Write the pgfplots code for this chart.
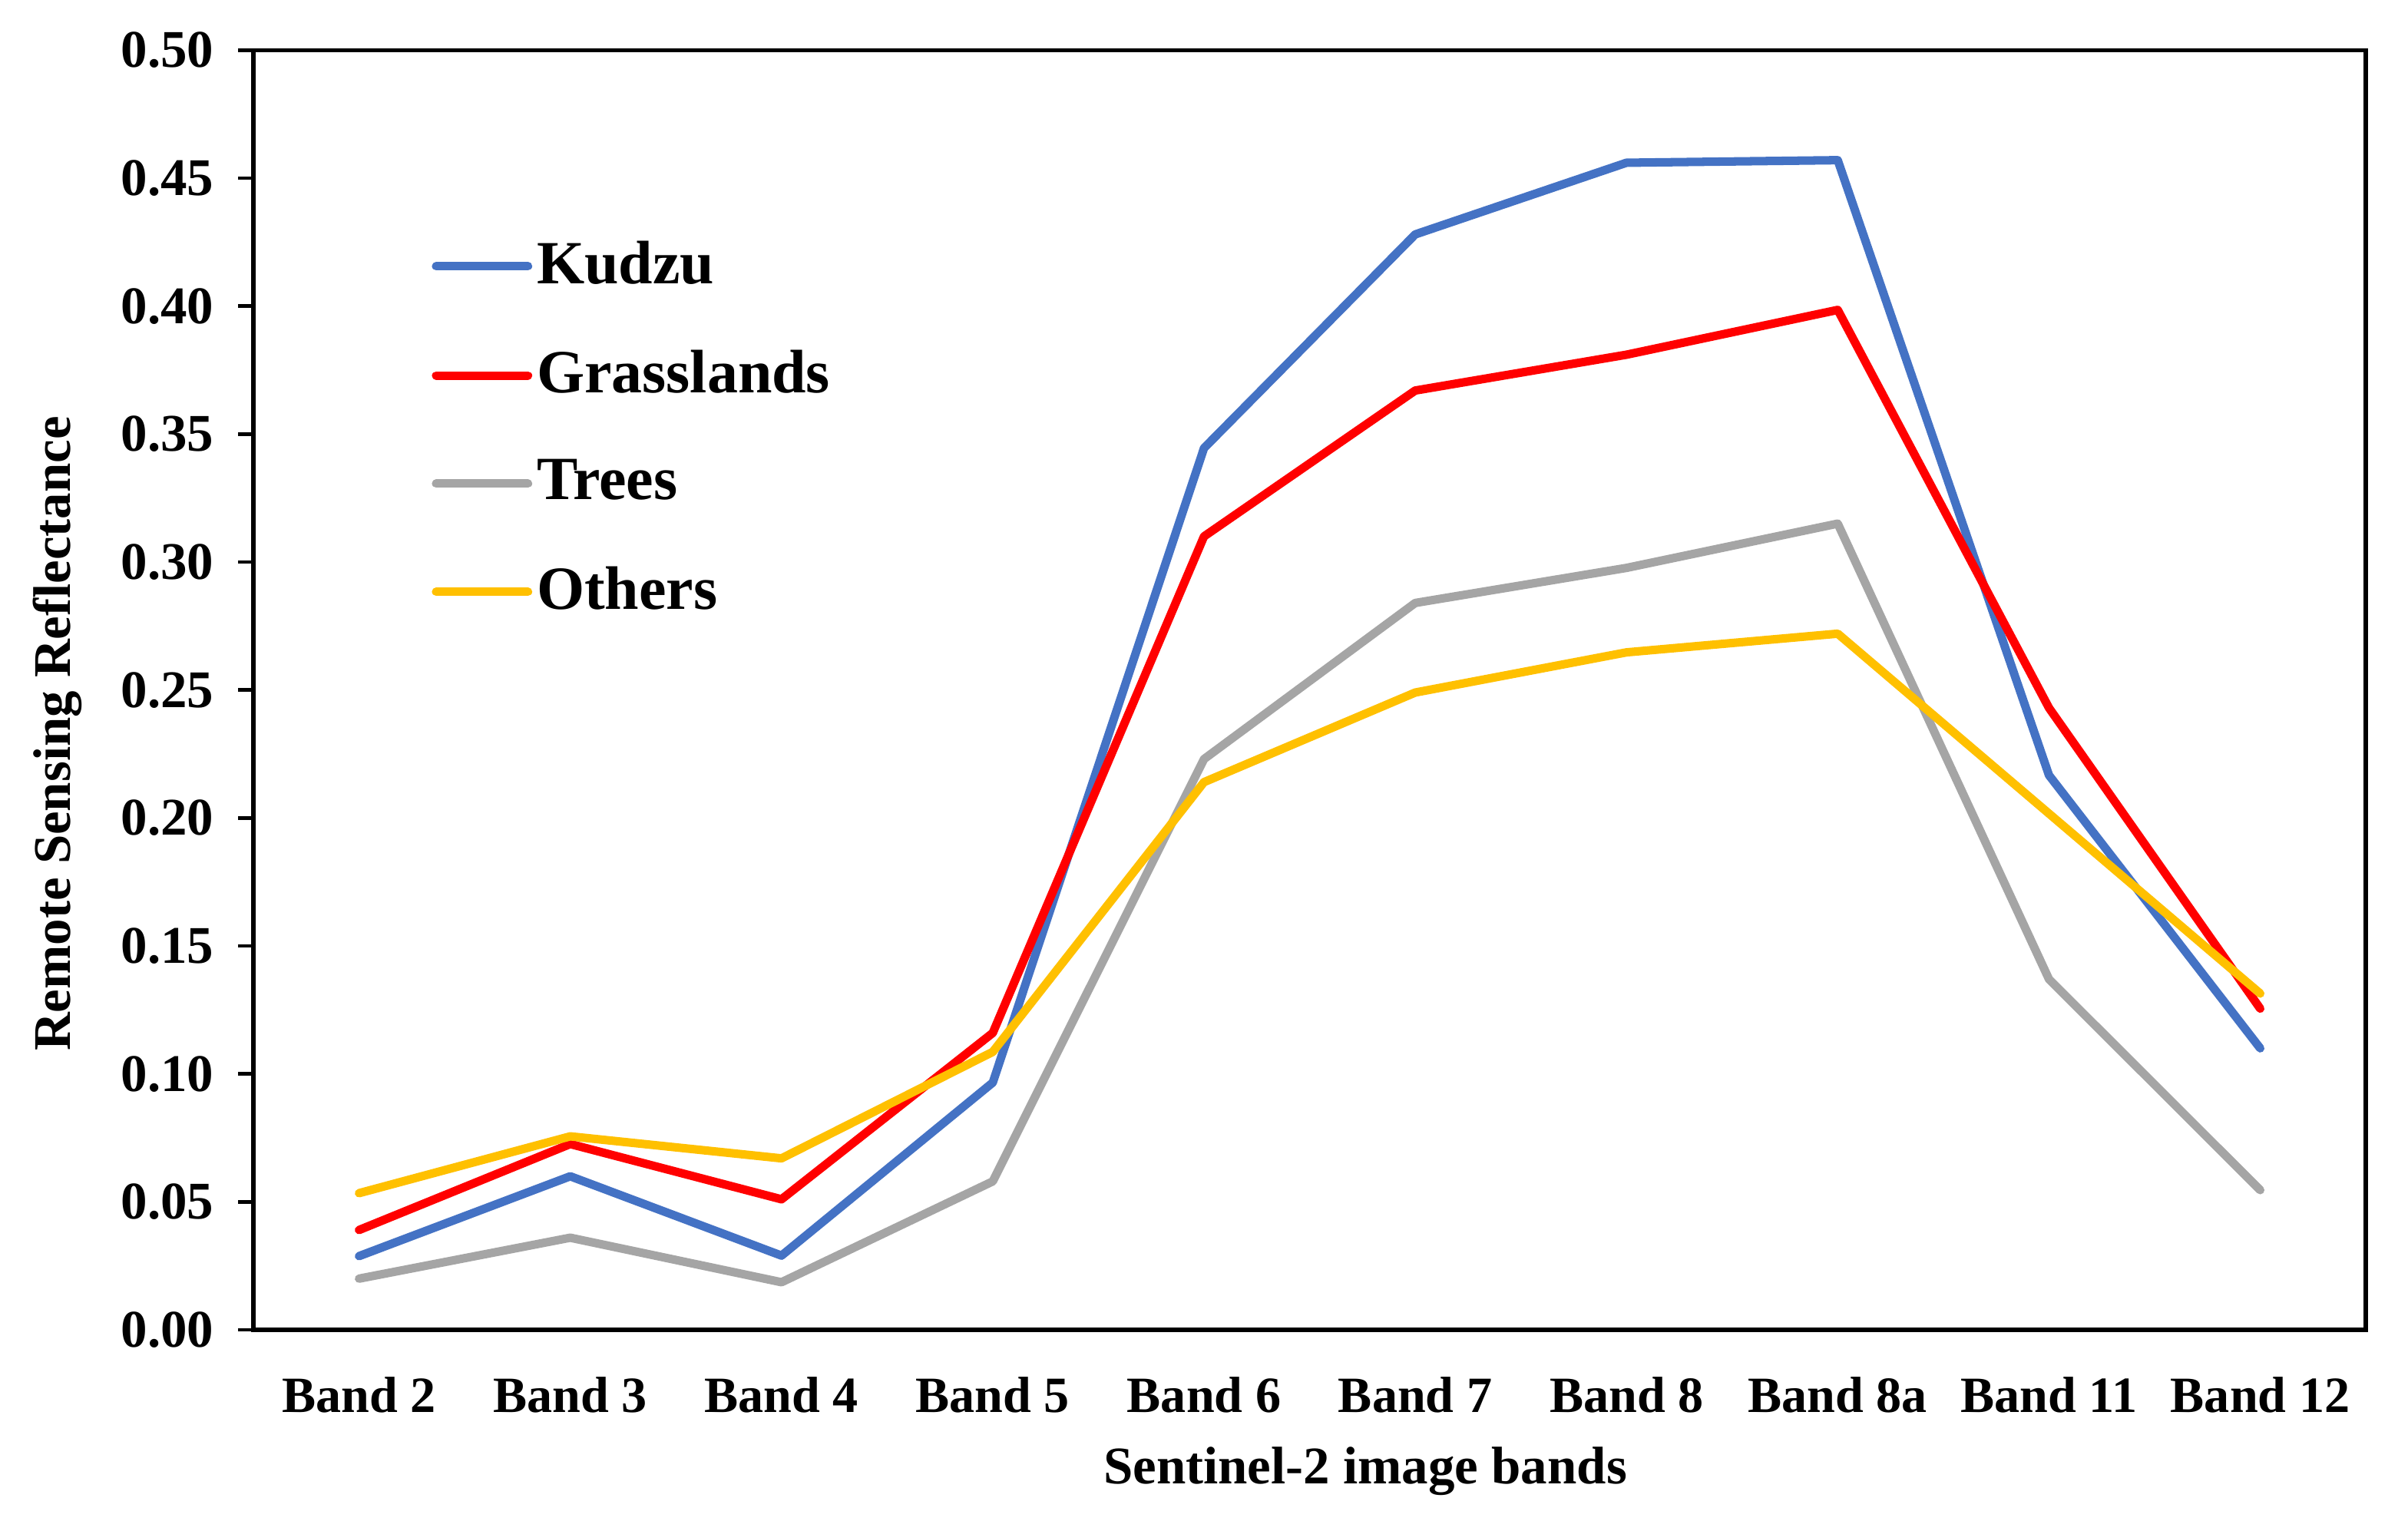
\documentclass[border=0pt]{standalone}
\usepackage{fontspec}
\setmainfont{Liberation Serif}
\usepackage{pgfplots}
\pgfplotsset{compat=1.18}
\definecolor{kudzu}{HTML}{4472C4}
\definecolor{grass}{HTML}{FF0000}
\definecolor{trees}{HTML}{A5A5A5}
\definecolor{others}{HTML}{FFC000}
\begin{document}
\begin{tikzpicture}
\begin{axis}[
  at={(0,0)}, anchor=south west,
  scale only axis,
  width=14.03cm, height=8.50cm,
  xmin=-0.5, xmax=9.5, ymin=0, ymax=0.5,
  xtick={0,...,9},
  xticklabels={Band 2,Band 3,Band 4,Band 5,Band 6,Band 7,Band 8,Band 8a,Band 11,Band 12},
  minor xtick={-0.5,0.5,...,9.5},
  ytick={0,0.05,...,0.5},
  tick align=outside,
  xtick style={draw=none},
  minor tick length=0.12cm,
  major tick length=0.1cm,
  xtick pos=bottom, ytick pos=left,
  every minor tick/.style={black, line width=0.7pt},
  every major tick/.style={black, line width=0.7pt},
  axis line style={black, line width=0.8pt},
  /pgf/number format/assume math mode=true,
  yticklabel style={/pgf/number format/fixed, /pgf/number format/fixed zerofill, /pgf/number format/precision=2, font=\fontsize{10}{11}\selectfont\bfseries, xshift=-0.04cm},
  xticklabel style={font=\fontsize{9.6}{11}\selectfont\bfseries, yshift=-0.09cm},
  scaled y ticks=false,
  xlabel={Sentinel-2 image bands},
  ylabel={Remote Sensing Reflectance},
  every axis x label/.style={at={(axis description cs:0.5,0)}, anchor=center, yshift=-0.94cm, xshift=0.37cm, font=\fontsize{10}{12}\selectfont\bfseries},
  every axis y label/.style={at={(axis description cs:0,0.5)}, rotate=90, anchor=center, yshift=1.3cm, xshift=-0.29cm, font=\fontsize{10}{12}\selectfont\bfseries},
  legend style={draw=none, fill=none, at={(0.084,0.86)}, anchor=north west, font=\fontsize{11.6}{13}\selectfont\bfseries, row sep=0.25cm, inner sep=0pt, nodes={inner xsep=0.03cm}},
  legend cell align=left,
  legend image code/.code={\draw[#1, line cap=round] (0cm,0cm) -- (0.61cm,0cm);},
  every axis plot/.append style={line width=1.6pt, line cap=round, line join=round},
]
\addplot[kudzu] coordinates {(0,0.0288) (1,0.060) (2,0.029) (3,0.0966) (4,0.3445) (5,0.428) (6,0.456) (7,0.457) (8,0.2167) (9,0.110)};
\addlegendentry{Kudzu}
\addplot[grass] coordinates {(0,0.039) (1,0.0726) (2,0.051) (3,0.116) (4,0.310) (5,0.367) (6,0.381) (7,0.3985) (8,0.243) (9,0.1255)};
\addlegendentry{Grasslands}
\addplot[trees] coordinates {(0,0.020) (1,0.036) (2,0.0186) (3,0.058) (4,0.223) (5,0.284) (6,0.2977) (7,0.315) (8,0.137) (9,0.0546)};
\addlegendentry{Trees}
\addplot[others] coordinates {(0,0.0534) (1,0.0756) (2,0.067) (3,0.1086) (4,0.214) (5,0.249) (6,0.2647) (7,0.272) (8,0.2017) (9,0.1314)};
\addlegendentry{Others}
\end{axis}
\pgfresetboundingbox
\path (-1.683,-1.265) rectangle (14.31,8.833);
\end{tikzpicture}
\end{document}
